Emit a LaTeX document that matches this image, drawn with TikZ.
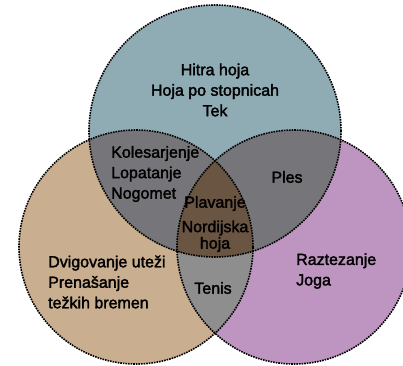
\documentclass[tikz,border=0pt]{standalone}
\usepackage{fontspec}
\setmainfont{Liberation Sans}
\newfontfamily\lblfont[FakeBold=2]{Liberation Sans}

\definecolor{topcol}{HTML}{8FACB5}
\definecolor{leftcol}{HTML}{C9AF8F}
\definecolor{rightcol}{HTML}{BD95C0}
\definecolor{twocol}{HTML}{76767A}
\definecolor{lrcol}{HTML}{8E8E8E}
\definecolor{allcol}{HTML}{6A5442}

\tikzset{
  rim/.style={densely dotted, line width=1.6pt},
  lbl/.style={font=\lblfont\fontsize{16}{20.5}\selectfont, inner sep=0pt}
}

\begin{document}
\begin{tikzpicture}[x=1pt, y=-1pt]
\useasboundingbox (0,0) rectangle (403,365);
\clip (0,0) rectangle (403,365);

\coordinate (ctop) at (215,131);
\coordinate (cleft) at (136,247);
\coordinate (cright) at (294,247);

% the three sets
\fill [topcol] (ctop) circle (126pt);
\fill [leftcol] (cleft) circle (117pt);
\fill [rightcol] (cright) circle (117pt);

% two at a time
\begin{scope}
  \clip (ctop) circle (126pt);
  \fill [twocol] (cleft) circle (117pt);
  \fill [twocol] (cright) circle (117pt);
\end{scope}
\begin{scope}
  \clip (cleft) circle (117pt);
  \fill [lrcol] (cright) circle (117pt);
\end{scope}

% all three
\begin{scope}
  \clip (ctop) circle (126pt);
  \clip (cleft) circle (117pt);
  \fill [allcol] (cright) circle (117pt);
\end{scope}

\draw [rim] (ctop) circle (126pt);
\draw [rim] (cleft) circle (117pt);
\draw [rim] (cright) circle (117pt);

\node [lbl, align=center] (hoja) at (215,90) {Hitra hoja\\Hoja po stopnicah\\Tek};
\node [lbl, align=left, anchor=west] (kolo) at (111,174) {Kolesarjenje\\Lopatanje\\Nogomet};
\node [lbl] (ples) at (287,177) {Ples};
\node [lbl, align=center] (plavanje) at (215,224) {Plavanje\\[4pt]Nordijska\\[-4pt]hoja};
\node [lbl, align=left, anchor=west] (utezi) at (48,282) {Dvigovanje uteži\\Prenašanje\\težkih bremen};
\node [lbl] (tenis) at (213,288) {Tenis};
\node [lbl, align=left, anchor=west] (joga) at (296,271) {Raztezanje\\Joga};
\end{tikzpicture}
\end{document}
